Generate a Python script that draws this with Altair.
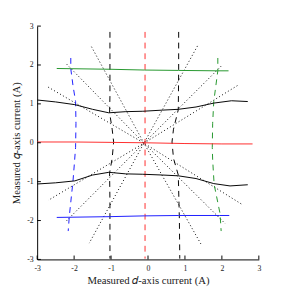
import altair as alt
import pandas as pd

# ---- data ----
# solid curves: constant q-axis command
green_s_x = [-2.47, -1.03, -0.1, 0.83, 1.89, 2.18]
green_s_y = [1.91, 1.89, 1.87, 1.86, 1.85, 1.85]
blackU_x = [-3, -2.5, -1.98, -1.5, -1.06, -0.6, -0.14, 0.4, 0.82, 1.3, 1.78, 2.26, 2.7]
blackU_y = [1.10, 1.05, 0.98, 0.86, 0.77, 0.80, 0.81, 0.84, 0.86, 0.92, 1.02, 1.08, 1.06]
red_s_x = [-3, -2, -1, -0.1, 1, 2, 2.83]
red_s_y = [0.02, 0.02, 0.01, 0.0, -0.02, -0.03, -0.03]
blackL_x = [-3, -2.5, -1.98, -1.5, -1.06, -0.6, -0.14, 0.4, 0.82, 1.3, 1.78, 2.22, 2.7]
blackL_y = [-1.06, -1.03, -0.98, -0.83, -0.76, -0.80, -0.81, -0.83, -0.85, -0.92, -1.05, -1.11, -1.08]
blue_s_x = [-2.47, -1.03, -0.1, 0.83, 1.94, 2.2]
blue_s_y = [-1.92, -1.90, -1.88, -1.87, -1.87, -1.87]

# dashed curves: constant d-axis command
blue_d_x = [-2.09, -2.09, -2.03, -1.96, -1.95, -1.96, -1.99, -2.03, -2.13, -2.16]
blue_d_y = [2.18, 1.9, 1.47, 1.06, 0.5, -0.12, -0.5, -0.98, -1.89, -2.27]
blackDL_x = [-1.03, -1.03, -1.03, -1.04, -0.97, -0.93, -0.97, -1.04, -1.03, -1.03]
blackDL_y = [2.85, 1.88, 1.2, 0.77, 0.35, 0.02, -0.4, -0.78, -1.5, -2.98]
red_d_x = [-0.08, -0.08, -0.08]
red_d_y = [2.85, 0.0, -2.98]
blackDR_x = [0.83, 0.83, 0.82, 0.69, 0.65, 0.69, 0.82, 0.85, 0.86]
blackDR_y = [2.85, 1.85, 0.85, 0.35, 0.02, -0.4, -0.83, -2.0, -2.98]
green_d_x = [1.89, 1.89, 1.78, 1.75, 1.74, 1.75, 1.79, 1.95, 1.98]
green_d_y = [2.18, 1.85, 1.06, 0.5, -0.12, -0.44, -1.07, -1.82, -2.27]

# dotted rays through the centre
ray_x = [[-1.53, -0.11, 1.43], [-2.2, -0.11, 2.09], [-2.7, -0.11, 2.57],
         [1.34, -0.11, -1.59], [1.98, -0.11, -2.24], [2.42, -0.11, -2.7]]
ray_y = [[2.47, -0.01, -2.6], [2.02, -0.01, -2.08], [1.43, -0.01, -1.6],
         [2.49, -0.01, -2.58], [1.97, -0.01, -2.04], [1.47, -0.01, -1.48]]

ticks = [-3, -2, -1, 0, 1, 2, 3]

GREEN, BLUE, RED, BLACK = "#22962a", "#1a1aff", "#ff2a2a", "#000000"

rows = []
def add(name, xs, ys, color, style):
    for i, (a, b) in enumerate(zip(xs, ys)):
        rows.append(dict(x=a, y=b, s=name, o=i, c=color, st=style))

add("gs", green_s_x, green_s_y, GREEN, "solid")
add("bu", blackU_x, blackU_y, BLACK, "solid")
add("rs", red_s_x, red_s_y, RED, "solid")
add("bl", blackL_x, blackL_y, BLACK, "solid")
add("bs", blue_s_x, blue_s_y, BLUE, "solid")
add("bd", blue_d_x, blue_d_y, BLUE, "dashed")
add("kdl", blackDL_x, blackDL_y, BLACK, "dashed")
add("rd", red_d_x, red_d_y, RED, "dashed")
add("kdr", blackDR_x, blackDR_y, BLACK, "dashed")
add("gd", green_d_x, green_d_y, GREEN, "dashed")
for k, (xs, ys) in enumerate(zip(ray_x, ray_y)):
    add(f"ray{k}", xs, ys, BLACK, "dotted")

df = pd.DataFrame(rows)

serif = "Liberation Serif"
xscale = alt.Scale(domain=[-3, 3], nice=False, zero=False)
yscale = alt.Scale(domain=[-3, 3], nice=False, zero=False)
lab = "datum.value < 0 ? '-' + abs(datum.value) : '' + datum.value"

common = dict(values=ticks, ticks=False, grid=False, domainColor="#000", domainWidth=1,
              labelFont=serif, labelFontSize=8, labelColor="#222", labelExpr=lab,
              labelOverlap=False, labelFlush=False, labelBound=False,
              titleFont=serif, titleFontSize=11, titleFontWeight="normal", titleColor="#222")
xaxis = alt.Axis(labelPadding=5, title="Measured 𝑑-axis current (A)", titlePadding=3, **common)
yaxis = alt.Axis(labelPadding=4, title="Measured 𝑞-axis current (A)", titlePadding=6, **common)

base = alt.Chart(df)

def layer(style, dash):
    kw = dict(strokeWidth=1, clip=True)
    if dash:
        kw["strokeDash"] = dash
    return base.transform_filter(alt.datum.st == style).mark_line(**kw).encode(
        x=alt.X("x:Q", scale=xscale, axis=xaxis),
        y=alt.Y("y:Q", scale=yscale, axis=yaxis),
        detail="s:N",
        order="o:Q",
        color=alt.Color("c:N", scale=None),
    )

dotted = layer("dotted", [1, 2.5])
dashed = layer("dashed", [6, 5])
solid = layer("solid", None)

tdf = pd.DataFrame({"t": ticks, "lo": [-3] * len(ticks), "hi": [-2.9] * len(ticks)})
xt = alt.Chart(tdf).mark_rule(color="#000", strokeWidth=1).encode(
    x=alt.X("t:Q", scale=xscale, axis=xaxis), y=alt.Y("lo:Q", scale=yscale, axis=yaxis), y2="hi:Q")
yt = alt.Chart(tdf).mark_rule(color="#000", strokeWidth=1).encode(
    y=alt.Y("t:Q", scale=yscale, axis=yaxis), x=alt.X("lo:Q", scale=xscale, axis=xaxis), x2="hi:Q")

chart = alt.layer(dotted, dashed, solid, xt, yt).properties(
    width=228, height=240,
    autosize=alt.AutoSizeParams(type="none"),
    padding={"left": 30, "top": 14.5, "right": 30, "bottom": 33.5},
).configure_view(strokeWidth=0)

chart.save("out.html", embed_options={"renderer": "svg", "actions": False})
